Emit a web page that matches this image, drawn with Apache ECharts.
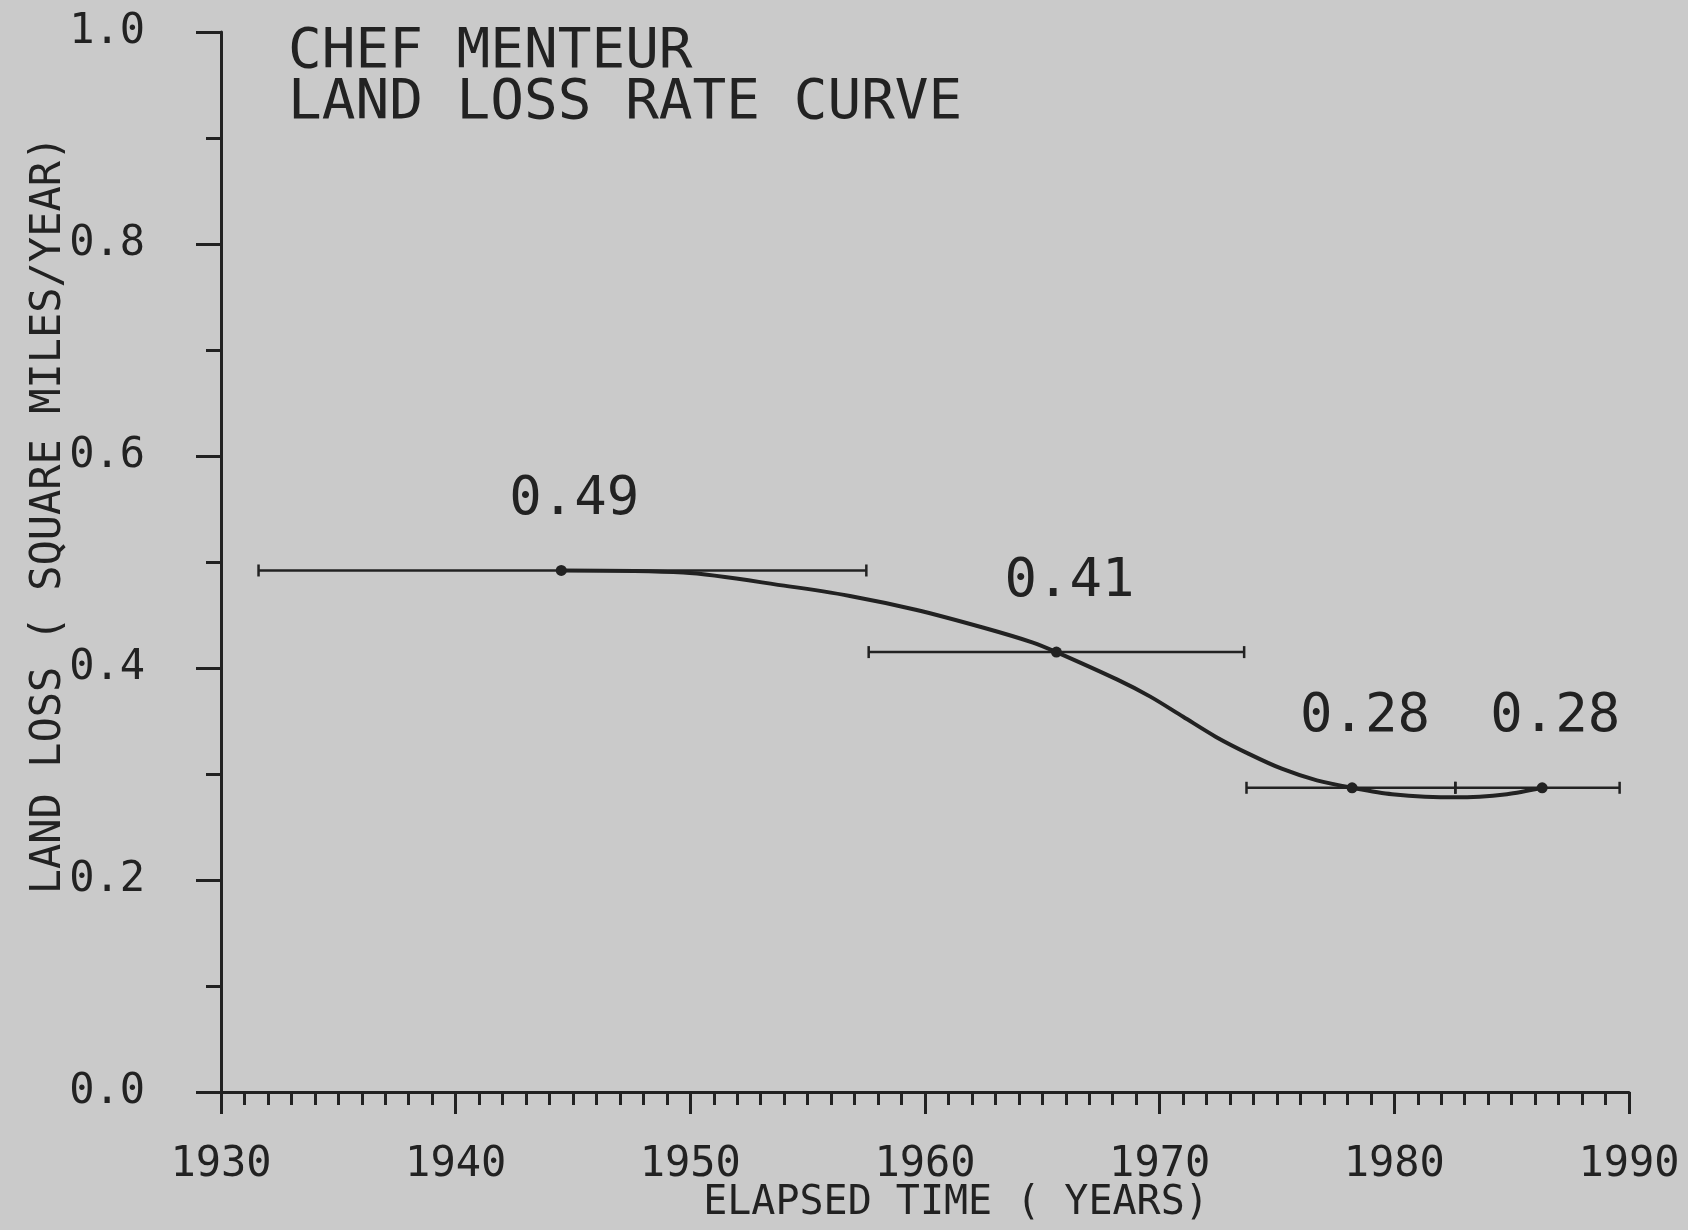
<!DOCTYPE html>
<html>
<head>
<meta charset="utf-8">
<title>Chef Menteur land loss rate curve</title>
<script src="https://cdn.jsdelivr.net/npm/echarts@6/dist/echarts.min.js"></script>
<style>
  html, body { margin: 0; padding: 0; background: #cacaca; }
  #chart { width: 1688px; height: 1230px; }
</style>
</head>
<body>
<div id="chart"></div>
<script>
// survey mid points (year, land loss rate)
const pointYears = [1944.5, 1965.6, 1978.2, 1986.3]
const pointRates = [0.492, 0.415, 0.287, 0.287]
const pointLabels = ['0.49', '0.41', '0.28', '0.28']

// horizontal bars = the period each rate covers
const barStart = [1931.6, 1957.6, 1973.7, 1982.6]
const barEnd = [1957.5, 1973.6, 1982.6, 1989.6]

// fitted curve
const curveYears = [1944.5, 1949.7, 1954.2, 1956.8, 1959.6, 1962.5, 1964.6, 1965.6, 1968.2, 1969.6, 1971.0, 1972.4, 1973.8, 1975.2, 1976.7, 1978.2, 1979.9, 1982.6, 1984.8, 1986.3]
const curveRates = [0.492, 0.490, 0.477, 0.468, 0.455, 0.438, 0.424, 0.415, 0.389, 0.373, 0.354, 0.335, 0.319, 0.305, 0.294, 0.287, 0.281, 0.278, 0.281, 0.287]

const ink = '#222222'
const font = 'DejaVu Sans Mono'

const chart = echarts.init(document.getElementById('chart'))

const option = {
  backgroundColor: '#cacaca',
  animation: false,
  title: {
    text: 'CHEF MENTEUR\nLAND LOSS RATE CURVE',
    left: 283,
    top: 22,
    textStyle: {
      color: ink,
      fontFamily: font,
      fontWeight: 'normal',
      fontSize: 56,
      lineHeight: 51
    }
  },
  grid: {
    left: 221,
    right: 59,
    top: 32,
    bottom: 138,
    outerBoundsMode: 'none' // keep the plot box where it is
  },
  xAxis: {
    type: 'value',
    min: 1930,
    max: 1990,
    interval: 10,
    name: 'ELAPSED TIME ( YEARS)',
    nameLocation: 'middle',
    nameGap: 92,
    nameMoveOverlap: false,
    nameTextStyle: {
      color: ink,
      fontFamily: font,
      fontSize: 40,
      padding: [0, 0, 0, 62]
    },
    axisLine: { lineStyle: { color: ink, width: 3 } },
    axisTick: { length: 22, lineStyle: { color: ink, width: 3 } },
    minorTick: { show: true, splitNumber: 10, length: 13, lineStyle: { color: ink, width: 3 } },
    axisLabel: {
      color: ink,
      fontFamily: font,
      fontSize: 42,
      margin: 52,
      formatter: v => String(v)
    },
    splitLine: { show: false }
  },
  yAxis: {
    type: 'value',
    min: 0,
    max: 1,
    interval: 0.2,
    name: 'LAND LOSS ( SQUARE MILES/YEAR)',
    nameLocation: 'middle',
    nameGap: 151,
    nameMoveOverlap: false,
    nameTextStyle: {
      color: ink,
      fontFamily: font,
      fontSize: 42,
      padding: [0, 0, 0, 94]
    },
    axisLine: { lineStyle: { color: ink, width: 3 } },
    axisTick: { length: 25, lineStyle: { color: ink, width: 3 } },
    minorTick: { show: true, splitNumber: 2, length: 15, lineStyle: { color: ink, width: 3 } },
    axisLabel: {
      color: ink,
      fontFamily: font,
      fontSize: 42,
      margin: 76,
      formatter: v => v.toFixed(1)
    },
    splitLine: { show: false }
  },
  series: [
    {
      // range bars with end caps
      type: 'custom',
      data: barStart.map((s, i) => [s, barEnd[i], pointRates[i]]),
      encode: { x: [0, 1], y: 2 },
      renderItem: function(params, api) {
        const y = api.value(2)
        const a = api.coord([api.value(0), y])
        const b = api.coord([api.value(1), y])
        const h = 6
        const st = { stroke: ink, lineWidth: 2.5 }
        return {
          type: 'group',
          children: [
            { type: 'line', shape: { x1: a[0], y1: a[1], x2: b[0], y2: b[1] }, style: st },
            { type: 'line', shape: { x1: a[0], y1: a[1] - h, x2: a[0], y2: a[1] + h }, style: st },
            { type: 'line', shape: { x1: b[0], y1: b[1] - h, x2: b[0], y2: b[1] + h }, style: st }
          ]
        }
      },
      z: 2
    },
    {
      type: 'line',
      data: curveYears.map((x, i) => [x, curveRates[i]]),
      smooth: 0.3,
      symbol: 'none',
      lineStyle: { color: ink, width: 4 },
      z: 3
    },
    {
      type: 'scatter',
      data: pointYears.map((x, i) => [x, pointRates[i]]),
      symbolSize: 11,
      itemStyle: { color: ink, opacity: 1 },
      emphasis: { disabled: true },
      label: {
        show: true,
        position: 'top',
        distance: 38,
        offset: [13, 0],
        color: ink,
        opacity: 1,
        fontFamily: font,
        fontSize: 54,
        formatter: p => pointLabels[p.dataIndex]
      },
      z: 4
    }
  ]
}

chart.setOption(option)
</script>
</body>
</html>
